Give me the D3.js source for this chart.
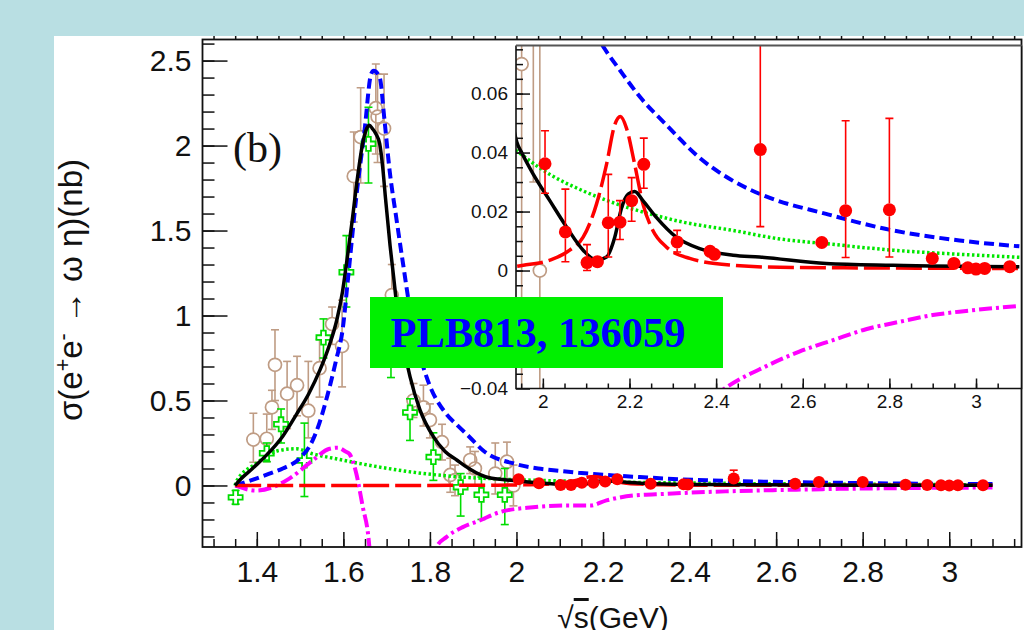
<!DOCTYPE html>
<html>
<head>
<meta charset="utf-8">
<script src="https://cdn.jsdelivr.net/npm/d3@7"></script>
<style>
body { margin: 0; background: #b9dfe3; }
svg { display: block; }
text { font-family: "Liberation Sans", Arial, sans-serif; }
</style>
</head>
<body>
<svg width="1024" height="630"></svg>
<script>
// ---- data ----
// fit curves, [sqrt(s) GeV, sigma nb]
var blackFit = [[1.35,0.0],[1.354,0.013],[1.39,0.1],[1.423,0.18],[1.46,0.29],[1.492,0.42],[1.52,0.54],[1.546,0.68],[1.567,0.82],[1.585,0.975],[1.598,1.14],[1.608,1.32],[1.62,1.55],[1.631,1.78],[1.646,2.03],[1.654,2.1],[1.66,2.12],[1.667,2.1],[1.675,2.07],[1.684,2.01],[1.691,1.87],[1.697,1.7],[1.708,1.41],[1.716,1.23],[1.723,1.07],[1.731,0.934],[1.742,0.78],[1.754,0.64],[1.777,0.445],[1.808,0.287],[1.835,0.2],[1.862,0.15],[1.89,0.1],[1.916,0.064],[1.94,0.0435],[1.951,0.040],[1.978,0.0326],[2.016,0.0237],[2.055,0.0147],[2.093,0.0069],[2.124,0.0035],[2.147,0.0046],[2.166,0.0113],[2.182,0.0214],[2.197,0.0259],[2.212,0.0268],[2.231,0.0237],[2.262,0.018],[2.308,0.0113],[2.362,0.0074],[2.439,0.0052],[2.5,0.0046],[2.654,0.0024],[2.808,0.0018],[3.1,0.0013]];
var blueCurve = [[1.35,0.0],[1.375,0.02],[1.429,0.069],[1.46,0.1],[1.498,0.157],[1.529,0.265],[1.545,0.37],[1.56,0.5],[1.583,0.735],[1.599,0.93],[1.61,1.2],[1.63,1.7],[1.649,2.09],[1.664,2.42],[1.67,2.44],[1.684,2.4],[1.695,2.15],[1.707,1.85],[1.722,1.58],[1.737,1.32],[1.761,0.93],[1.792,0.64],[1.838,0.42],[1.861,0.36],[1.892,0.284],[1.923,0.206],[2.0,0.125],[2.05,0.1],[2.1,0.086],[2.143,0.0751],[2.178,0.0679],[2.224,0.0589],[2.285,0.0494],[2.362,0.0382],[2.439,0.0304],[2.512,0.0253],[2.654,0.0192],[2.808,0.0136],[2.962,0.0102],[3.1,0.0082]];
var greenCurve = [[1.35,0.0],[1.352,0.02],[1.398,0.128],[1.452,0.206],[1.491,0.216],[1.529,0.186],[1.583,0.157],[1.622,0.137],[1.684,0.108],[1.761,0.078],[1.876,0.049],[1.951,0.0393],[2.016,0.0326],[2.093,0.027],[2.17,0.0226],[2.247,0.0192],[2.324,0.0164],[2.439,0.0136],[2.543,0.0108],[2.654,0.0091],[2.808,0.0069],[2.962,0.0055],[3.1,0.0045]];
var redCurve = [[1.35,0.0],[1.9,0.0008],[1.955,0.0018],[2.016,0.0035],[2.062,0.0069],[2.093,0.0113],[2.124,0.0226],[2.147,0.036],[2.166,0.0494],[2.179,0.0522],[2.193,0.0483],[2.212,0.036],[2.231,0.0226],[2.254,0.0136],[2.285,0.008],[2.339,0.0041],[2.439,0.0018],[2.547,0.0011],[3.1,0.0007]];
var magentaCurve = [[1.35,0.0],[1.398,-0.03],[1.437,-0.01],[1.475,0.04],[1.529,0.147],[1.568,0.216],[1.587,0.222],[1.605,0.2],[1.614,0.186],[1.63,0.069],[1.645,-0.128],[1.657,-0.284],[1.665,-0.5],[1.7,-1.5],[1.75,-2.0],[1.8,-0.8],[1.815,-0.363],[1.838,-0.304],[1.876,-0.245],[1.915,-0.206],[1.961,-0.157],[2.038,-0.128],[2.116,-0.118],[2.17,-0.118],[2.208,-0.088],[2.27,-0.059],[2.347,-0.049],[2.42,-0.04],[2.516,-0.0324],[2.592,-0.0275],[2.67,-0.0236],[2.746,-0.0199],[2.823,-0.0174],[2.9,-0.0151],[2.977,-0.0137],[3.1,-0.012]];

// measurements, [sqrt(s), sigma, low, high]
var redPoints = [[2.005,0.0362,0.0262,0.0474],[2.052,0.0131,0.003,0.0276],[2.102,0.0027,0.0,0.0088],[2.126,0.003,0.001,0.005],[2.151,0.0162,0.0046,0.0326],[2.178,0.0164,0.0105,0.0237],[2.205,0.0237,0.0167,0.0315],[2.233,0.036,0.0279,0.0449],[2.31,0.0097,0.0063,0.0136],[2.386,0.0065,0.005,0.008],[2.396,0.0055,0.004,0.007],[2.502,0.041,0.0149,0.09],[2.644,0.0095,0.008,0.011],[2.699,0.0203,0.0044,0.0508],[2.8,0.0206,0.0046,0.0516],[2.899,0.0041,0.003,0.0052],[2.949,0.0024,0.0015,0.0033],[2.981,0.0009,0.0,0.0018],[3.0,0.0005,0.0,0.0012],[3.02,0.0007,0.0,0.0014],[3.078,0.0013,0.0005,0.002]];
var brownPoints = [[1.392,0.27,0.137,0.425],[1.423,0.275,0.14,0.42],[1.435,0.46,0.33,0.56],[1.442,0.71,0.5,0.916],[1.47,0.54,0.335,0.73],[1.493,0.59,0.41,0.76],[1.519,0.44,0.28,0.73],[1.545,0.69,0.52,0.86],[1.574,0.95,0.83,1.05],[1.597,0.82,0.58,1.09],[1.624,1.82,1.55,2.08],[1.64,2.05,1.78,2.34],[1.675,2.22,1.95,2.48],[1.679,2.17,1.9,2.42],[1.694,2.1,1.76,2.42],[1.712,1.12,0.95,1.3],[1.762,0.5,0.4,0.6],[1.785,0.46,0.35,0.59],[1.8,0.385,0.28,0.48],[1.828,0.255,0.15,0.36],[1.847,0.062,-0.04,0.16],[1.858,0.032,-0.06,0.12],[1.893,0.15,0.07,0.227],[1.904,0.1,0.0,0.2],[1.951,0.07,-0.05,0.25],[1.978,0.14,0.03,0.255],[1.993,0.0,-0.12,0.12]];
var greenPoints = [[1.351,-0.07,-0.11,-0.03],[1.423,0.19,0.14,0.25],[1.456,0.36,0.25,0.45],[1.51,0.147,-0.065,0.367],[1.554,0.87,0.75,0.98],[1.607,1.255,1.05,1.47],[1.658,2.01,1.78,2.225],[1.71,0.78,0.635,0.93],[1.754,0.43,0.265,0.51],[1.808,0.167,0.03,0.31],[1.871,-0.01,-0.18,0.07],[1.919,-0.055,-0.2,0.05],[1.973,-0.055,-0.23,0.1]];

// axis ticks (the -0.02 inset label sits under the paper label, so it is not drawn)
var xMajor = [1.4, 1.6, 1.8, 2.0, 2.2, 2.4, 2.6, 2.8, 3.0];
var yMajor = [0, 0.5, 1, 1.5, 2, 2.5];
var xInsetMajor = [2.0, 2.2, 2.4, 2.6, 2.8, 3.0];
var yInsetMajor = [-0.04, -0.02, 0, 0.02, 0.04, 0.06];
var yInsetHidden = [-0.02];

var xTitle = "(GeV)";
var paperLabel = "PLB813, 136059";

// ---- layout ----
var svg = d3.select("svg");
var M = {left: 202.5, right: 1021.5, top: 39.5, bottom: 547};
var I = {left: 516, right: 1021.5, top: 45.5, bottom: 388.5};

var x = d3.scaleLinear().domain([1.2745, 3.167]).range([M.left, M.right]);
var y = d3.scaleLinear().domain([-0.362, 2.624]).range([M.bottom, M.top]);
var xi = d3.scaleLinear().domain([1.938, 3.105]).range([I.left, I.right]);
var yi = d3.scaleLinear().domain([-0.04, 0.0763]).range([I.bottom, I.top]);

var fmt = d3.format("~g");
var brown = "#bf9c84";
var crossGreen = "#00dd00";

var curveStyles = [
	{data: greenCurve, color: "#00e600", width: 3.5, dash: "2.5,2.5"},
	{data: magentaCurve, color: "#ff00ff", width: 4, dash: "13,4,3,4"},
	{data: blueCurve, color: "#0000ff", width: 4, dash: "10,5"},
	{data: redCurve, color: "#ff0000", width: 3.5, dash: "26,6"},
	{data: blackFit, color: "#000000", width: 3.5, dash: null}
];

svg.append("rect").attr("width", 1024).attr("height", 630).attr("fill", "#b9dfe3");
svg.append("rect").attr("x", 54).attr("y", 36).attr("width", 970).attr("height", 594).attr("fill", "#ffffff");

var defs = svg.append("defs");
defs.append("clipPath").attr("id", "mainClip").append("rect")
	.attr("x", M.left).attr("y", M.top).attr("width", M.right - M.left).attr("height", M.bottom - M.top);
defs.append("clipPath").attr("id", "insetClip").append("rect")
	.attr("x", I.left).attr("y", I.top).attr("width", I.right - I.left).attr("height", I.bottom - I.top);

function errorBars(g, data, xs, ys, color, r, cap) {
	var bars = g.append("g").attr("stroke", color).attr("stroke-width", 1.6);
	data.forEach(function (d) {
		var cx = xs(d[0]), cy = ys(d[1]);
		var top = ys(d[3]), bot = ys(d[2]);
		if (top < cy - r) {
			bars.append("line").attr("x1", cx).attr("x2", cx).attr("y1", cy - r).attr("y2", top);
			bars.append("line").attr("x1", cx - cap).attr("x2", cx + cap).attr("y1", top).attr("y2", top);
		}
		if (bot > cy + r) {
			bars.append("line").attr("x1", cx).attr("x2", cx).attr("y1", cy + r).attr("y2", bot);
			bars.append("line").attr("x1", cx - cap).attr("x2", cx + cap).attr("y1", bot).attr("y2", bot);
		}
	});
}

function drawCurves(g, xs, ys) {
	var line = d3.line()
		.x(function (d) { return xs(d[0]); })
		.y(function (d) { return ys(d[1]); })
		.curve(d3.curveMonotoneX);
	curveStyles.forEach(function (c) {
		g.append("path").datum(c.data)
			.attr("d", line)
			.attr("fill", "none")
			.attr("stroke", c.color)
			.attr("stroke-width", c.width)
			.attr("stroke-dasharray", c.dash);
	});
}

function redMarkers(g, xs, ys, r) {
	errorBars(g, redPoints, xs, ys, "#ff0000", r, 4);
	g.append("g").selectAll("circle").data(redPoints).enter().append("circle")
		.attr("cx", function (d) { return xs(d[0]); })
		.attr("cy", function (d) { return ys(d[1]); })
		.attr("r", r)
		.attr("fill", "#ff0000");
}

function brownMarkers(g, xs, ys) {
	errorBars(g, brownPoints, xs, ys, brown, 6.5, 4);
	g.append("g").selectAll("circle").data(brownPoints).enter().append("circle")
		.attr("cx", function (d) { return xs(d[0]); })
		.attr("cy", function (d) { return ys(d[1]); })
		.attr("r", 6.5)
		.attr("fill", "none")
		.attr("stroke", brown)
		.attr("stroke-width", 1.7);
}

// ---- main frame ----
var plot = svg.append("g").attr("clip-path", "url(#mainClip)");
brownMarkers(plot, x, y);
errorBars(plot, greenPoints, x, y, crossGreen, 6.5, 4);
plot.append("g").selectAll("path").data(greenPoints).enter().append("path")
	.attr("transform", function (d) { return "translate(" + x(d[0]) + "," + y(d[1]) + ")"; })
	.attr("d", d3.symbol().type(d3.symbolCross).size(110))
	.attr("fill", "#ffffff")
	.attr("stroke", crossGreen)
	.attr("stroke-width", 1.8);
drawCurves(plot, x, y);
redMarkers(plot, x, y, 6);

function styleAxis(g) {
	g.select(".domain").remove();
	g.selectAll("line").attr("stroke", "#111").attr("stroke-width", 1.5);
}

svg.append("g").attr("transform", "translate(" + M.left + ",0)")
	.call(d3.axisLeft(y).tickValues(d3.range(-0.3, 2.61, 0.1)).tickSize(-12).tickFormat(""))
	.call(styleAxis);
svg.append("g").attr("transform", "translate(" + M.left + ",0)")
	.call(d3.axisLeft(y).tickValues(yMajor).tickSize(-25).tickPadding(11).tickFormat(fmt))
	.call(styleAxis)
	.selectAll("text").attr("font-size", 30).attr("fill", "#111");
svg.append("g").attr("transform", "translate(0," + M.bottom + ")")
	.call(d3.axisBottom(x).tickValues(d3.range(1.3, 3.16, 0.05)).tickSize(-8).tickFormat(""))
	.call(styleAxis);
svg.append("g").attr("transform", "translate(0," + M.bottom + ")")
	.call(d3.axisBottom(x).tickValues(xMajor).tickSize(-15).tickPadding(14).tickFormat(fmt))
	.call(styleAxis)
	.selectAll("text").attr("font-size", 30).attr("fill", "#111");
svg.append("g").attr("transform", "translate(0," + M.top + ")")
	.call(d3.axisTop(x).tickValues(d3.range(1.3, 3.16, 0.05)).tickSize(3.5).tickFormat(""))
	.call(styleAxis);
svg.append("rect")
	.attr("x", M.left).attr("y", M.top).attr("width", M.right - M.left).attr("height", M.bottom - M.top)
	.attr("fill", "none").attr("stroke", "#111").attr("stroke-width", 1.8);

svg.append("text").attr("x", 233).attr("y", 162)
	.style("font-family", "'Liberation Serif', 'Times New Roman', serif")
	.attr("font-size", 42).attr("fill", "#111").text("(b)");

// ---- inset ----
svg.append("rect")
	.attr("x", I.left).attr("y", I.top).attr("width", I.right - I.left).attr("height", I.bottom - I.top)
	.attr("fill", "#ffffff");
var inset = svg.append("g").attr("clip-path", "url(#insetClip)");
brownMarkers(inset, xi, yi);
drawCurves(inset, xi, yi);
redMarkers(inset, xi, yi, 6.5);

svg.append("g").attr("transform", "translate(" + I.left + ",0)")
	.call(d3.axisLeft(yi).tickValues(d3.range(-0.035, 0.076, 0.005)).tickSize(-7).tickFormat(""))
	.call(styleAxis);
svg.append("g").attr("transform", "translate(" + I.left + ",0)")
	.call(d3.axisLeft(yi).tickValues(yInsetMajor).tickSize(-14).tickPadding(8)
		.tickFormat(function (d) { return yInsetHidden.indexOf(d) >= 0 ? "" : fmt(d); }))
	.call(styleAxis)
	.selectAll("text").attr("font-size", 19).attr("fill", "#111");
svg.append("g").attr("transform", "translate(0," + I.bottom + ")")
	.call(d3.axisBottom(xi).tickValues(d3.range(1.95, 3.1, 0.05)).tickSize(-5).tickFormat(""))
	.call(styleAxis);
svg.append("g").attr("transform", "translate(0," + I.bottom + ")")
	.call(d3.axisBottom(xi).tickValues(xInsetMajor).tickSize(-10).tickPadding(6).tickFormat(fmt))
	.call(styleAxis)
	.selectAll("text").attr("font-size", 19).attr("fill", "#111");

var frame = svg.append("g").attr("fill", "none").attr("stroke-width", 1.6);
frame.append("path").attr("stroke", "#111")
	.attr("d", "M" + I.left + "," + I.top + "V" + I.bottom + "H" + I.right + "V" + I.top);
frame.append("path").attr("stroke", "#555").attr("stroke-width", 2)
	.attr("d", "M" + I.left + "," + I.top + "H" + I.right);

// ---- paper label ----
svg.append("rect").attr("x", 370).attr("y", 297).attr("width", 353).attr("height", 71).attr("fill", "#00f000");
svg.append("text").attr("x", 390.5).attr("y", 346.5)
	.style("font-family", "'Liberation Serif', 'Times New Roman', serif")
	.attr("font-weight", "bold").attr("font-size", 42).attr("fill", "#0000ff")
	.attr("textLength", 295).attr("lengthAdjust", "spacingAndGlyphs")
	.text(paperLabel);

// ---- axis titles ----
var yt = svg.append("text")
	.attr("transform", "translate(82,290) rotate(-90)")
	.attr("text-anchor", "middle").attr("font-size", 33).attr("fill", "#111");
yt.append("tspan").text("\u03c3(e");
yt.append("tspan").attr("baseline-shift", "super").attr("font-size", "65%").text("+");
yt.append("tspan").text("e");
yt.append("tspan").attr("baseline-shift", "super").attr("font-size", "65%").text("-");
yt.append("tspan").text(" \u2192 \u03c9 \u03b7)(nb)");

var xt = svg.append("text").attr("x", 613).attr("y", 628)
	.attr("text-anchor", "middle").attr("font-size", 30).attr("fill", "#111");
xt.append("tspan").text("\u221a");
xt.append("tspan").style("text-decoration", "overline").text("s");
xt.append("tspan").text(xTitle);
</script>
</body>
</html>
